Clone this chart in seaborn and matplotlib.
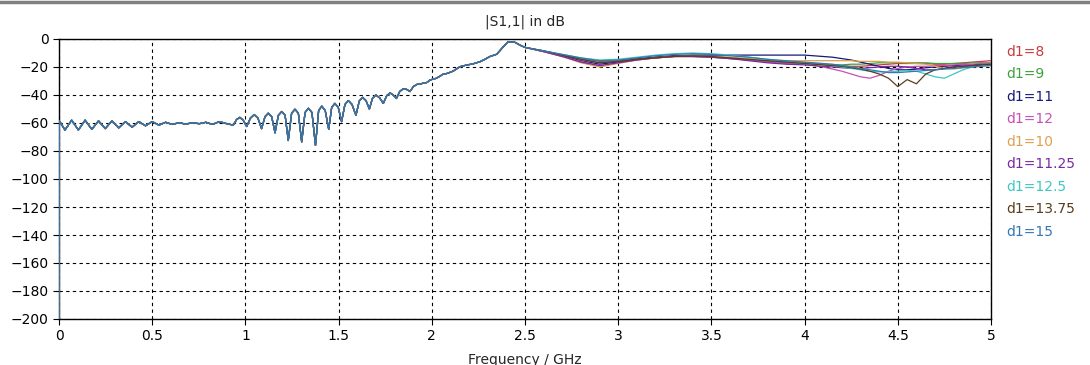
import pandas as pd
import matplotlib
matplotlib.use("Agg")
import matplotlib.pyplot as plt
import seaborn as sns

# shared part of the trace (all d1 curves overlap below ~2.5 GHz)
freq_low = [0.0, 0.002, 0.032, 0.068, 0.104, 0.140, 0.176, 0.212, 0.248, 0.284,
            0.320, 0.356, 0.392, 0.428, 0.464, 0.500, 0.536, 0.572, 0.608, 0.644,
            0.680, 0.716, 0.752, 0.788, 0.824, 0.860, 0.900,
            0.935, 0.953, 0.970, 0.988, 1.007, 1.027, 1.047, 1.067, 1.087, 1.105,
            1.123, 1.141, 1.159, 1.177, 1.195, 1.213, 1.230, 1.248, 1.266, 1.284,
            1.302, 1.320, 1.338, 1.357, 1.376, 1.393, 1.410, 1.428, 1.447, 1.463,
            1.480, 1.498, 1.516, 1.534, 1.552, 1.572, 1.593, 1.611, 1.629, 1.647,
            1.665, 1.682, 1.700, 1.720, 1.740, 1.758, 1.776, 1.793, 1.810, 1.828,
            1.847, 1.865, 1.883, 1.901, 1.919, 1.955, 1.975, 1.990, 2.026, 2.060,
            2.085, 2.115, 2.151, 2.187, 2.220, 2.259, 2.285, 2.310, 2.348, 2.384,
            2.410, 2.446, 2.475]
s11_low = [-200, -58.5, -65, -58, -65, -58, -64.5, -58.5, -64, -58.5,
           -63.5, -59, -63, -59, -62, -59, -61.5, -59.5, -61, -59.8,
           -60.8, -59.8, -60.5, -59.5, -61, -59, -60.5,
           -61.5, -57.5, -56, -58, -62.5, -56.5, -54, -56.5, -64, -55.5,
           -53, -55.5, -67, -54.5, -51.8, -54.5, -72.5, -53, -50.2, -53,
           -73.5, -52.5, -49.5, -52.5, -76, -51, -48, -51, -64.5, -48.8,
           -46, -48.8, -59, -46.8, -44, -46.8, -54.5, -44.3, -41.7, -44,
           -50, -42.3, -40, -42, -46, -40.5, -38.5, -40, -42.5, -37.5,
           -35.5, -36, -37.5, -34, -32.5, -31.6, -31, -29.3, -28, -25.2,
           -24.5, -22.9, -19.8, -18.6, -17.8, -16.2, -14.5, -12.6, -10.9, -5.5,
           -1.9, -2.4, -4.5]

freq_high = [2.5, 2.6, 2.7, 2.8, 2.9, 3.0, 3.1, 3.2, 3.3, 3.4, 3.5, 3.6, 3.7, 3.8, 3.9, 4.0,
             4.05, 4.1, 4.15, 4.2, 4.25, 4.3, 4.35, 4.4, 4.45, 4.5,
             4.55, 4.6, 4.65, 4.7, 4.75, 4.8, 4.85, 4.9, 4.95, 5.0]

d1_labels = ["d1=8", "d1=9", "d1=11", "d1=12", "d1=10",
             "d1=11.25", "d1=12.5", "d1=13.75", "d1=15"]
d1_colors = ["#c83c3c", "#3ca03c", "#141a78", "#c84fb4", "#e0a050",
             "#7a2aa0", "#3cc8c0", "#5a3c1e", "#3278b4"]

s11_d1_8 = [-6, -8.5, -11.5, -14, -16, -15.5, -14, -13, -12, -12, -12.5, -13.5, -14.5, -15.5, -16.5, -17,
            -17.5, -18, -18.5, -19, -19.5, -19.5, -19, -18.5, -18, -17.5,
            -17.5, -17.5, -17.5, -18, -18, -17.5, -17, -16.5, -16, -15.5]
s11_d1_9 = [-6, -8.5, -11.5, -14.5, -17, -16, -14.5, -13.5, -12.5, -12.5, -13, -14, -15, -16, -17, -17.5,
            -18, -18, -18.5, -18.5, -18, -18, -17.5, -17, -17, -17,
            -17, -17, -17, -17.5, -17.5, -17.5, -17.5, -17, -17, -17]
s11_d1_11 = [-6, -9, -12, -15.5, -18, -16.5, -14.5, -13, -12, -11.5, -11.5, -11.5, -11.5, -11.5, -11.5, -11.5,
             -12, -12.5, -13, -14, -15, -16.5, -18, -19.5, -21, -22,
             -22, -21.5, -20.5, -20, -19.5, -19, -18.5, -18.5, -18, -18]
s11_d1_12 = [-6, -9, -12.5, -16, -19, -17, -15, -13.5, -12.5, -12.5, -13, -14, -15, -16.5, -17.5, -18,
             -19, -20, -21.5, -23, -25, -27, -28, -26, -23, -21,
             -20, -19.5, -19.5, -19, -19, -18.5, -18, -18, -17.5, -17.5]
s11_d1_10 = [-6, -9, -12.5, -17, -20, -17.5, -15, -13.5, -12.5, -12, -12.5, -13, -14, -15, -15.5, -15.5,
             -15.5, -15.5, -15.5, -15.5, -15.5, -16, -16, -16, -16.5, -16.5,
             -17, -17.5, -18, -19.5, -21, -21.5, -20.5, -19.5, -19, -18.5]
s11_d1_11_25 = [-6, -9, -12.5, -16.5, -19, -17, -15, -13.5, -12.5, -12.5, -13, -14, -15.5, -17, -18, -18.5,
                -19, -19.5, -20, -20.5, -21, -21, -20.5, -20, -19.5, -19.5,
                -20, -21, -22, -22, -21, -20, -19.5, -19, -18.5, -18.5]
s11_d1_12_5 = [-6, -8.5, -11, -13.5, -15, -14.5, -13, -11.5, -10.5, -10, -10.5, -11.5, -13, -14.5, -16, -17.5,
               -18, -18.5, -19, -20, -21, -22, -23, -23.5, -23.5, -23,
               -22.5, -23, -25, -27, -28, -25, -22, -20, -19, -18]
s11_d1_13_75 = [-6, -8.5, -11.5, -14.5, -17, -16, -14.5, -13.5, -12.5, -12, -12.5, -13.5, -14.5, -15.5, -16.5, -17.5,
                -18, -18.5, -19, -19.5, -20.5, -21.5, -23, -25, -28, -34,
                -29, -32, -25, -22, -21, -20, -19.5, -19, -18.5, -18]
s11_d1_15 = [-6, -8.5, -11, -13.5, -15.5, -15, -13.5, -12, -11, -10.5, -11, -12, -13, -14.5, -15.5, -16.5,
             -17, -17.5, -18, -19, -20, -21, -22, -23, -24, -24,
             -23.5, -23, -22.5, -22, -21.5, -21, -20.5, -20, -19.5, -19]

high_series = [s11_d1_8, s11_d1_9, s11_d1_11, s11_d1_12, s11_d1_10,
               s11_d1_11_25, s11_d1_12_5, s11_d1_13_75, s11_d1_15]

xticks = [0, 0.5, 1, 1.5, 2, 2.5, 3, 3.5, 4, 4.5, 5]
xtick_labels = ["0", "0.5", "1", "1.5", "2", "2.5", "3", "3.5", "4", "4.5", "5"]
yticks = [0, -20, -40, -60, -80, -100, -120, -140, -160, -180, -200]

rows = []
for label, vals in zip(d1_labels, high_series):
    for f, v in zip(freq_low + freq_high, s11_low + vals):
        rows.append({"freq": f, "s11": v, "curve": label})
df = pd.DataFrame(rows)

sns.set_style("white")
plt.rcParams['font.family'] = ['DejaVu Sans']

W, H = 1090, 365
fig = plt.figure(figsize=(W / 100, H / 100), dpi=100)
ax = fig.add_axes([59 / W, 46 / H, 932 / W, 280 / H])

sns.lineplot(data=df, x="freq", y="s11", hue="curve", hue_order=d1_labels,
             palette=dict(zip(d1_labels, d1_colors)), sort=False, estimator=None,
             linewidth=0.9, ax=ax, zorder=3)

ax.set_xlim(0, 5)
ax.set_ylim(-200, 0)
ax.set_xticks(xticks)
ax.set_xticklabels(xtick_labels)
ax.set_yticks(yticks)
ax.grid(True, color="black", linestyle=(0, (3, 3)), linewidth=0.8)
ax.set_axisbelow(True)
ax.tick_params(bottom=True, left=True, direction="out", length=4, width=0.8,
               colors="black", labelsize=10)
for sp in ax.spines.values():
    sp.set_color("black")
    sp.set_linewidth(1)
    sp.set_zorder(2)

ax.set_title("|S1,1| in dB", fontsize=10, pad=10)
ax.set_xlabel("Frequency / GHz", fontsize=10, labelpad=7)
ax.set_ylabel("")

handles, labels = ax.get_legend_handles_labels()
leg = ax.legend(handles, labels, loc="upper left", bbox_to_anchor=(1006 / W, 1 - 45 / H),
                bbox_transform=fig.transFigure, frameon=False, handlelength=0,
                handletextpad=0, borderpad=0, borderaxespad=0, labelspacing=0.61,
                fontsize=10, labelcolor="linecolor")
for h in leg.legend_handles:
    h.set_visible(False)

# grey window border along the top
fig.add_artist(plt.Line2D([0, 1], [1 - 1.5 / H, 1 - 1.5 / H], transform=fig.transFigure,
                          color="#808080", linewidth=2.5))

fig.savefig("out.png", dpi=100)
